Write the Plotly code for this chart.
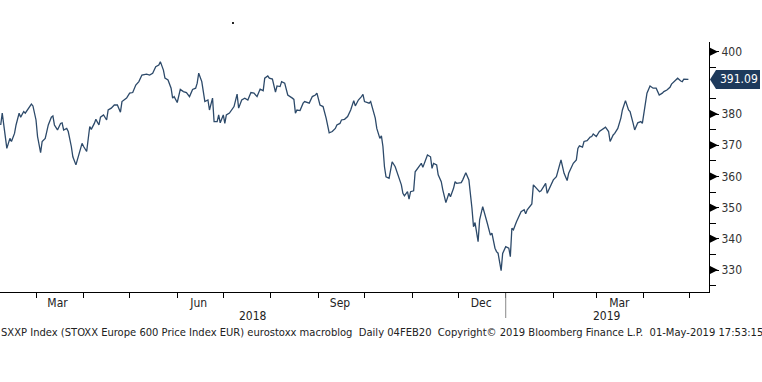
import plotly.graph_objects as go
import pandas as pd

# ---------------- data ----------------
dates = [
    "2018-02-06", "2018-02-07", "2018-02-10", "2018-02-12", "2018-02-13", "2018-02-15", "2018-02-16",
    "2018-02-18", "2018-02-19", "2018-02-21", "2018-02-22", "2018-02-24", "2018-02-26", "2018-02-27",
    "2018-03-01", "2018-03-02", "2018-03-04", "2018-03-05", "2018-03-07", "2018-03-09", "2018-03-11",
    "2018-03-12", "2018-03-13", "2018-03-15", "2018-03-17", "2018-03-18", "2018-03-19", "2018-03-21",
    "2018-03-22", "2018-03-24", "2018-03-25", "2018-03-27", "2018-03-29", "2018-03-31", "2018-04-01",
    "2018-04-03", "2018-04-05", "2018-04-06", "2018-04-08", "2018-04-09", "2018-04-11", "2018-04-12",
    "2018-04-14", "2018-04-16", "2018-04-17", "2018-04-19", "2018-04-21", "2018-04-23", "2018-04-25",
    "2018-04-26", "2018-04-29", "2018-04-30", "2018-05-01", "2018-05-03", "2018-05-05", "2018-05-07",
    "2018-05-09", "2018-05-12", "2018-05-14", "2018-05-16", "2018-05-18", "2018-05-20", "2018-05-21",
    "2018-05-23", "2018-05-24", "2018-05-26", "2018-05-28", "2018-05-29", "2018-05-30", "2018-06-01",
    "2018-06-02", "2018-06-03", "2018-06-05", "2018-06-07", "2018-06-09", "2018-06-11", "2018-06-13",
    "2018-06-14", "2018-06-15", "2018-06-17", "2018-06-18", "2018-06-19", "2018-06-21", "2018-06-22",
    "2018-06-24", "2018-06-25", "2018-06-27", "2018-06-28", "2018-06-29", "2018-07-01", "2018-07-02",
    "2018-07-03", "2018-07-05", "2018-07-08", "2018-07-10", "2018-07-11", "2018-07-13", "2018-07-15",
    "2018-07-17", "2018-07-19", "2018-07-21", "2018-07-23", "2018-07-25", "2018-07-27", "2018-07-28",
    "2018-07-30", "2018-07-31", "2018-08-02", "2018-08-04", "2018-08-05", "2018-08-07", "2018-08-08",
    "2018-08-10", "2018-08-12", "2018-08-15", "2018-08-16", "2018-08-17", "2018-08-18", "2018-08-20",
    "2018-08-22", "2018-08-23", "2018-08-26", "2018-08-28", "2018-08-30", "2018-08-31", "2018-09-02",
    "2018-09-04", "2018-09-06", "2018-09-08", "2018-09-10", "2018-09-12", "2018-09-13", "2018-09-15",
    "2018-09-16", "2018-09-18", "2018-09-20", "2018-09-22", "2018-09-24", "2018-09-25", "2018-09-27",
    "2018-09-29", "2018-09-30", "2018-10-01", "2018-10-03", "2018-10-04", "2018-10-05", "2018-10-06",
    "2018-10-08", "2018-10-09", "2018-10-11", "2018-10-12", "2018-10-13", "2018-10-14", "2018-10-15",
    "2018-10-17", "2018-10-18", "2018-10-19", "2018-10-21", "2018-10-23", "2018-10-25", "2018-10-26",
    "2018-10-27", "2018-10-29", "2018-10-30", "2018-10-31", "2018-11-02", "2018-11-03", "2018-11-05",
    "2018-11-07", "2018-11-08", "2018-11-10", "2018-11-11", "2018-11-13", "2018-11-14", "2018-11-15",
    "2018-11-17", "2018-11-18", "2018-11-20", "2018-11-21", "2018-11-23", "2018-11-25", "2018-11-26",
    "2018-11-28", "2018-11-29", "2018-11-30", "2018-12-03", "2018-12-04", "2018-12-06", "2018-12-08",
    "2018-12-09", "2018-12-10", "2018-12-11", "2018-12-12", "2018-12-14", "2018-12-15", "2018-12-17",
    "2018-12-18", "2018-12-20", "2018-12-22", "2018-12-23", "2018-12-25", "2018-12-26", "2018-12-27",
    "2018-12-29", "2018-12-30", "2019-01-01", "2019-01-03", "2019-01-04", "2019-01-05", "2019-01-06",
    "2019-01-08", "2019-01-10", "2019-01-11", "2019-01-13", "2019-01-14", "2019-01-15", "2019-01-17",
    "2019-01-18", "2019-01-19", "2019-01-21", "2019-01-23", "2019-01-24", "2019-01-27", "2019-01-28",
    "2019-01-30", "2019-02-01", "2019-02-03", "2019-02-05", "2019-02-06", "2019-02-08", "2019-02-10",
    "2019-02-11", "2019-02-13", "2019-02-14", "2019-02-16", "2019-02-17", "2019-02-18", "2019-02-20",
    "2019-02-21", "2019-02-23", "2019-02-25", "2019-02-26", "2019-02-27", "2019-03-01", "2019-03-03",
    "2019-03-06", "2019-03-07", "2019-03-09", "2019-03-10", "2019-03-12", "2019-03-13", "2019-03-15",
    "2019-03-17", "2019-03-18", "2019-03-20", "2019-03-22", "2019-03-23", "2019-03-25", "2019-03-26",
    "2019-03-28", "2019-03-30", "2019-03-31", "2019-04-02", "2019-04-03", "2019-04-05", "2019-04-07",
    "2019-04-09", "2019-04-11", "2019-04-13", "2019-04-14", "2019-04-16", "2019-04-18", "2019-04-19",
    "2019-04-21", "2019-04-23", "2019-04-25", "2019-04-26", "2019-04-27", "2019-04-29", "2019-04-30",
]
values = [
    376.5, 380.3, 369.0, 372.2, 371.2, 373.8, 376.5,
    380.3, 379.0, 380.8, 380.3, 381.9, 383.2, 382.6,
    378.1, 372.8, 367.6, 371.2, 372.2, 376.5, 379.0,
    379.4, 376.5, 374.9, 377.0, 377.2, 374.9, 375.4,
    374.4, 369.6, 366.3, 363.7, 366.9, 370.6, 369.6,
    368.0, 376.0, 375.1, 377.0, 378.3, 376.5, 379.0,
    379.7, 378.1, 381.3, 381.9, 382.9, 382.9, 380.6,
    384.0, 385.1, 386.1, 386.7, 386.9, 389.3, 390.4,
    392.5, 392.8, 392.5, 393.1, 395.2, 395.7, 396.8,
    394.1, 391.5, 390.9, 388.3, 385.1, 385.6, 383.7,
    386.1, 387.9, 387.2, 386.9, 385.6, 387.9, 388.3,
    389.9, 393.1, 390.4, 387.2, 384.0, 384.5, 381.3,
    385.1, 377.6, 377.6, 379.7, 377.2, 379.7, 377.0,
    379.7, 380.3, 382.4, 386.4, 381.9, 384.5, 385.1,
    384.5, 386.9, 386.7, 385.6, 388.0, 387.5, 391.5,
    392.2, 391.5, 391.2, 387.0, 389.0, 388.8, 390.4,
    389.9, 386.1, 385.1, 384.7, 380.3, 381.3, 381.1,
    383.5, 384.0, 383.5, 385.6, 386.1, 386.7, 382.9,
    382.4, 378.7, 374.0, 374.4, 375.4, 376.5, 377.0,
    378.1, 378.3, 379.2, 381.3, 384.3, 382.6, 384.5,
    385.6, 386.3, 384.0, 383.7, 383.5, 384.0, 381.9,
    378.7, 375.4, 372.2, 373.0, 369.6, 363.1, 359.9,
    359.4, 362.6, 364.7, 363.1, 360.5, 357.3, 354.6,
    353.8, 355.1, 352.7, 355.1, 355.4, 361.5, 362.9,
    364.2, 362.9, 365.3, 366.9, 366.3, 362.6, 364.2,
    363.7, 360.5, 358.3, 355.7, 351.6, 354.6, 353.5,
    356.2, 358.3, 357.8, 358.0, 358.9, 361.2, 358.9,
    354.6, 349.8, 343.9, 345.2, 339.1, 346.1, 350.3,
    348.7, 345.0, 341.2, 341.8, 337.0, 335.9, 335.4,
    329.8, 335.3, 337.5, 337.0, 334.3, 343.4, 342.9,
    345.5, 347.7, 348.7, 349.3, 348.0, 349.3, 350.5,
    351.2, 357.3, 356.2, 355.1, 355.4, 357.8, 354.6,
    357.0, 358.9, 359.9, 363.1, 365.3, 361.0, 358.7,
    361.0, 363.1, 364.2, 365.3, 369.0, 369.8, 369.4,
    371.2, 371.5, 372.6, 372.8, 373.6, 372.8, 374.4,
    375.4, 375.8, 374.4, 371.2, 373.3, 373.8, 375.4,
    378.7, 381.3, 384.3, 381.3, 380.8, 377.0, 374.9,
    377.2, 377.6, 377.0, 383.5, 386.7, 389.0, 388.3,
    388.3, 386.1, 386.7, 387.2, 387.7, 388.6, 389.6,
    390.4, 391.5, 390.6, 390.4, 391.2, 391.2, 391.09,
]

last_value = 391.09
last_label = "391.09"

month_ticks = pd.date_range("2018-02-01", "2019-05-01", freq="MS").strftime("%Y-%m-%d").tolist()
label_dates = ["2018-03-15", "2018-06-15", "2018-09-15", "2018-12-16", "2019-03-16"]
label_texts = ["Mar", "Jun", "Sep", "Dec", "Mar"]
year_labels = ["2018", "2019"]
year_break = "2019-01-01"

y_major = [330, 340, 350, 360, 370, 380, 400]
y_minor = [325, 335, 345, 355, 365, 375, 385, 395, 405]

x_range = ["2018-02-05 13:00", "2019-05-13 10:00"]
y_range = [322.95, 403.1]

footer = ("SXXP Index (STOXX Europe 600 Price Index EUR) eurostoxx macroblog  Daily 04FEB20  "
          "Copyright\u00a9 2019 Bloomberg Finance L.P.  01-May-2019 17:53:15")

FONT = "Tahoma, 'DejaVu Sans Condensed', 'DejaVu Sans', sans-serif"
LINE_COLOR = "#2d4a6a"
LABEL_BG = "#1e3a5c"

fig = go.Figure()
fig.add_trace(go.Scatter(x=dates, y=values, mode="lines",
                         line=dict(color=LINE_COLOR, width=1.3), hoverinfo="skip"))

shapes = []
# triangle markers at major y ticks
for v in y_major:
    shapes.append(dict(type="path", xref="paper", yref="y", xanchor=1, yanchor=v,
                       xsizemode="pixel", ysizemode="pixel",
                       path="M 0 4.5 L 9 0 L 0 -4.5 Z",
                       fillcolor="black", line=dict(width=0), layer="above"))
# last-price tag
shapes.append(dict(type="path", xref="paper", yref="y", xanchor=1, yanchor=last_value,
                   xsizemode="pixel", ysizemode="pixel",
                   path="M 1 0 L 7 9.5 L 51 9.5 L 51 -9.5 L 7 -9.5 Z",
                   fillcolor=LABEL_BG, line=dict(width=0), layer="above"))
# year separator
shapes.append(dict(type="line", xref="x", yref="paper", x0=year_break, x1=year_break,
                   y0=-0.004, y1=-0.104, line=dict(color="#888888", width=1)))
# small stray dot seen in the reference
shapes.append(dict(type="rect", xref="paper", yref="paper", x0=0.3272, x1=0.3300,
                   y0=1.072, y1=1.080, fillcolor="#222", line=dict(width=0)))

annotations = [
    dict(text=last_label, xref="paper", yref="y", x=1, y=last_value, xanchor="left",
         yanchor="middle", xshift=9, showarrow=False,
         font=dict(family=FONT, size=12, color="white")),
    dict(text=footer, xref="paper", yref="paper", x=0, y=-0.16, xanchor="left",
         yanchor="middle", xshift=-1, showarrow=False,
         font=dict(family=FONT, size=11.1, color="#222")),
]
# year labels centred on the visible part of each year
x0 = pd.Timestamp(x_range[0]); x1 = pd.Timestamp(x_range[1]); yb = pd.Timestamp(year_break)
for txt, a, b in [(year_labels[0], x0, yb), (year_labels[1], yb, x1)]:
    mid = a + (b - a) / 2
    annotations.append(dict(text=txt, xref="x", yref="paper", x=mid, y=-0.094,
                            xanchor="center", yanchor="middle", showarrow=False,
                            font=dict(family=FONT, size=12, color="#222")))

fig.update_layout(
    width=762, height=382,
    margin=dict(l=0, r=53, t=42, b=90),
    paper_bgcolor="white", plot_bgcolor="white",
    showlegend=False,
    shapes=shapes, annotations=annotations,
    xaxis=dict(type="date", range=x_range, showgrid=False, zeroline=False, automargin=False,
               showline=True, linecolor="black", linewidth=1,
               tickmode="array", tickvals=label_dates, ticktext=label_texts,
               ticks="", ticklabelstandoff=0,
               tickfont=dict(family=FONT, size=12, color="#222"),
               minor=dict(tickmode="array", tickvals=month_ticks, ticks="outside",
                          ticklen=5, tickcolor="black", tickwidth=1, showgrid=False)),
    yaxis=dict(side="right", range=y_range, showgrid=False, zeroline=False, automargin=False,
               showline=True, linecolor="black", linewidth=1,
               tickmode="array", tickvals=y_major, ticks="outside", ticklen=9,
               tickcolor="black", tickwidth=1,
               tickfont=dict(family=FONT, size=12, color="#333"),
               minor=dict(tickmode="array", tickvals=y_minor, ticks="outside",
                          ticklen=6, tickcolor="black", tickwidth=1, showgrid=False)),
)

fig.write_html("out.html", config={"displayModeBar": False},
               post_script="document.body.style.margin='0';")
